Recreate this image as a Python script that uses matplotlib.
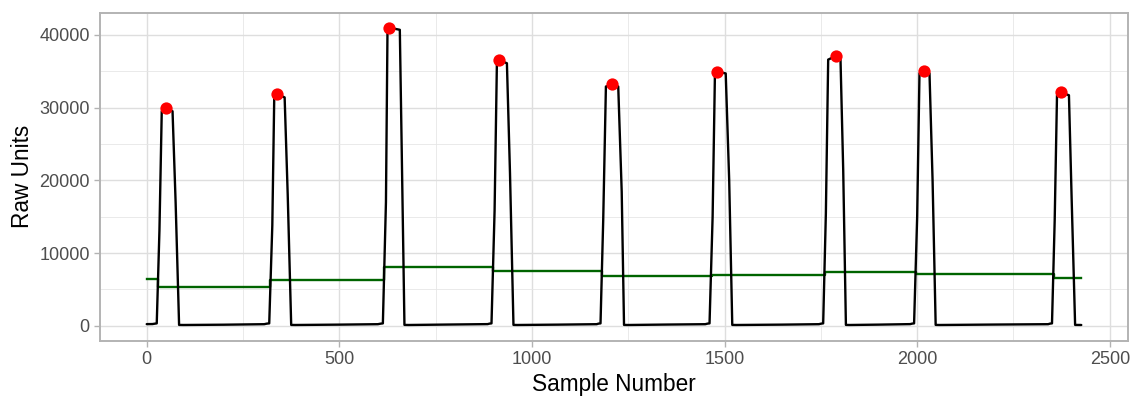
import matplotlib
matplotlib.use("Agg")
import matplotlib.pyplot as plt
from matplotlib.ticker import MultipleLocator
import numpy as np

plt.rcParams['font.family'] = ['Liberation Sans', 'DejaVu Sans']

# Raw signal (sample number, raw units)
sample_x = [0, 15, 22,
            26, 33, 39, 50, 67, 75, 84, 95, 200, 305, 312,
            318, 326, 331, 339, 358, 366, 375, 385, 500, 600, 608,
            613, 621, 625, 629, 657, 662, 669, 680, 780, 885, 890,
            895, 903, 909, 914, 935, 943, 952, 962, 1070, 1168, 1173,
            1178, 1185, 1192, 1209, 1224, 1233, 1239, 1250, 1350, 1450, 1456,
            1461, 1469, 1475, 1481, 1503, 1512, 1520, 1530, 1650, 1745, 1751,
            1756, 1763, 1769, 1789, 1801, 1808, 1815, 1825, 1900, 1982, 1987,
            1992, 2000, 2006, 2019, 2032, 2040, 2048, 2058, 2200, 2340, 2345,
            2350, 2357, 2363, 2373, 2394, 2401, 2410, 2426]
raw_y = [230, 240, 300,
         330, 13100, 29500, 29900, 29500, 17000, 120, 110, 150, 220, 300,
         330, 13800, 31400, 31850, 31400, 18000, 120, 110, 160, 220, 300,
         330, 17000, 40600, 41000, 40700, 24000, 120, 110, 170, 230, 300,
         330, 15800, 36100, 36550, 36100, 21000, 120, 110, 160, 220, 300,
         330, 14550, 32900, 33200, 32900, 18450, 120, 110, 170, 220, 300,
         330, 15000, 34600, 34950, 34700, 20050, 120, 110, 160, 220, 300,
         330, 15470, 36600, 37100, 36600, 21430, 120, 110, 160, 230, 300,
         330, 15000, 34700, 35100, 34700, 20000, 120, 110, 170, 220, 300,
         330, 14500, 31700, 32100, 31700, 17500, 120, 110]

# Detected peaks
peak_x = [50, 339, 629, 914, 1209, 1481, 1789, 2019, 2373]
peak_y = [29900, 31850, 41000, 36550, 33200, 34950, 37100, 35100, 32100]

# Threshold step line
step_x = [0, 30, 321, 615, 900, 1182, 1467, 1762, 1997, 2355, 2426]
step_y = [6440, 5300, 6300, 8050, 7500, 6880, 7050, 7380, 7100, 6550, 6550]

x_ticks = [0, 500, 1000, 1500, 2000, 2500]
y_ticks = [0, 10000, 20000, 30000, 40000]

W, H = 1133, 396
fig = plt.figure(figsize=(W / 100, H / 100), dpi=100)
ax = fig.add_axes([100 / W, (H - 340.7) / H, 1028 / W, 328 / H])

ax.plot(step_x, step_y, drawstyle='steps-post', color='#006400', lw=1.7, zorder=3)
ax.plot(sample_x, raw_y, color='black', lw=1.7, zorder=4,
        solid_joinstyle='round', solid_capstyle='round')
ax.scatter(peak_x, peak_y, s=78, color='#FF0000', zorder=5, linewidths=0)

xmin, xmax = min(sample_x), max(sample_x)
ymin, ymax = 0, max(raw_y + peak_y)
ax.set_xlim(xmin - 0.05 * (xmax - xmin), xmax + 0.05 * (xmax - xmin))
ax.set_ylim(ymin - 0.05 * (ymax - ymin), ymax + 0.05 * (ymax - ymin))

ax.set_xticks(x_ticks)
ax.set_yticks(y_ticks)
ax.set_xticklabels([str(v) for v in x_ticks])
ax.set_yticklabels([str(v) for v in y_ticks])
ax.xaxis.set_minor_locator(MultipleLocator(250))
ax.yaxis.set_minor_locator(MultipleLocator(5000))

ax.grid(which='major', color='#DEDEDE', lw=1.0, zorder=0)
ax.grid(which='minor', color='#E6E6E6', lw=0.6, zorder=0)
ax.set_axisbelow(True)

for sp in ax.spines.values():
    sp.set_color('#B3B3B3')
    sp.set_linewidth(1.4)

ax.tick_params(which='major', length=4, width=1.0, color='#B3B3B3',
               labelcolor='#4D4D4D', labelsize=13, pad=3.3)
ax.tick_params(which='minor', length=0)

ax.set_xlabel('Sample Number', fontsize=16.3, color='black', labelpad=4)
ax.set_ylabel('Raw Units', fontsize=16.3, color='black', labelpad=3.5)

fig.savefig('out.png', dpi=100)
